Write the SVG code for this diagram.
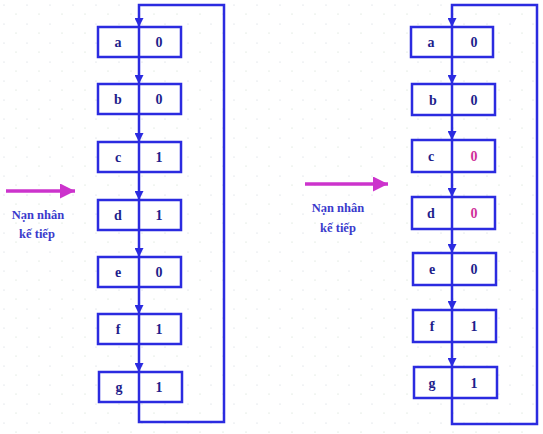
<svg xmlns="http://www.w3.org/2000/svg" width="543" height="434" viewBox="0 0 543 434">
<style>
.box{fill:#ffffff;stroke:#2b2be0;stroke-width:2.5}
.ln{fill:none;stroke:#2b2be0;stroke-width:2.5}
.lab{font-family:"Liberation Serif","Times New Roman",serif;font-weight:bold;font-size:14px;fill:#1e1e8c;text-anchor:middle}
.val{font-family:"Liberation Serif","Times New Roman",serif;font-weight:bold;font-size:14px;fill:#1e1e8c;text-anchor:middle}
.mag{fill:#d0309a}
.cap{font-family:"Liberation Serif","DejaVu Serif",serif;font-size:12.5px;font-weight:bold;fill:#3a3acc;text-anchor:middle}
.pk{fill:none;stroke:#cc33cc;stroke-width:3.5}
</style>
<defs>
<marker id="ah" viewBox="0 0 10 10" refX="10" refY="5" markerWidth="9" markerHeight="9" markerUnits="userSpaceOnUse" orient="auto">
<path d="M0,0 L10,5 L0,10 z" fill="#2b2be0"/>
</marker>
<marker id="pah" viewBox="0 0 10 10" refX="10" refY="5" markerWidth="15" markerHeight="15" markerUnits="userSpaceOnUse" orient="auto">
<path d="M0,0 L10,5 L0,10 z" fill="#cc33cc"/>
</marker>
<pattern id="dots" width="23" height="19" patternUnits="userSpaceOnUse">
<circle cx="4" cy="5" r="0.6" fill="#c8d0d8"/>
<circle cx="16" cy="14" r="0.6" fill="#c8d8c8"/>
</pattern>
</defs>
<rect width="543" height="434" fill="#ffffff"/>
<rect width="543" height="434" fill="url(#dots)"/>

<g id="left-nodes">
<g id="L-a"><rect class="box" x="98" y="27" width="83" height="30"/><line class="ln" x1="139" y1="27" x2="139" y2="57"/><text class="lab" x="118" y="47">a</text><text class="val" x="159" y="47">0</text></g>
<g id="L-b"><rect class="box" x="98" y="84" width="83" height="30"/><line class="ln" x1="139" y1="84" x2="139" y2="114"/><text class="lab" x="118" y="104">b</text><text class="val" x="159" y="104">0</text></g>
<g id="L-c"><rect class="box" x="98" y="142" width="83" height="30"/><line class="ln" x1="139" y1="142" x2="139" y2="172"/><text class="lab" x="118" y="162">c</text><text class="val" x="159" y="162">1</text></g>
<g id="L-d"><rect class="box" x="98" y="200" width="83" height="30"/><line class="ln" x1="139" y1="200" x2="139" y2="230"/><text class="lab" x="118" y="220">d</text><text class="val" x="159" y="220">1</text></g>
<g id="L-e"><rect class="box" x="98" y="257" width="83" height="30"/><line class="ln" x1="139" y1="257" x2="139" y2="287"/><text class="lab" x="118" y="277">e</text><text class="val" x="159" y="277">0</text></g>
<g id="L-f"><rect class="box" x="98" y="314" width="83" height="30"/><line class="ln" x1="139" y1="314" x2="139" y2="344"/><text class="lab" x="118" y="334">f</text><text class="val" x="159" y="334">1</text></g>
<g id="L-g"><rect class="box" x="99" y="372" width="83" height="30"/><line class="ln" x1="139" y1="372" x2="139" y2="402"/><text class="lab" x="119" y="392">g</text><text class="val" x="159" y="392">1</text></g>
</g>

<g id="right-nodes">
<g id="R-a"><rect class="box" x="411" y="27" width="82" height="30"/><line class="ln" x1="452" y1="27" x2="452" y2="57"/><text class="lab" x="431" y="47">a</text><text class="val" x="474" y="47">0</text></g>
<g id="R-b"><rect class="box" x="412" y="84" width="83" height="31"/><line class="ln" x1="452" y1="84" x2="452" y2="115"/><text class="lab" x="433" y="105">b</text><text class="val" x="474" y="105">0</text></g>
<g id="R-c"><rect class="box" x="412" y="140" width="83" height="32"/><line class="ln" x1="452" y1="140" x2="452" y2="172"/><text class="lab" x="431" y="161">c</text><text class="val mag" x="474" y="161">0</text></g>
<g id="R-d"><rect class="box" x="412" y="197" width="83" height="32"/><line class="ln" x1="452" y1="197" x2="452" y2="229"/><text class="lab" x="431" y="218">d</text><text class="val mag" x="474" y="218">0</text></g>
<g id="R-e"><rect class="box" x="413" y="253" width="83" height="32"/><line class="ln" x1="452" y1="253" x2="452" y2="285"/><text class="lab" x="432" y="274">e</text><text class="val" x="474" y="274">0</text></g>
<g id="R-f"><rect class="box" x="413" y="310" width="83" height="32"/><line class="ln" x1="452" y1="310" x2="452" y2="342"/><text class="lab" x="432" y="331">f</text><text class="val" x="474" y="331">1</text></g>
<g id="R-g"><rect class="box" x="414" y="367" width="83" height="31"/><line class="ln" x1="452" y1="367" x2="452" y2="398"/><text class="lab" x="432" y="388">g</text><text class="val" x="474" y="388">1</text></g>
</g>

<g id="connectors">
<path class="ln" d="M139,402 V422 H224 V5 H139 V27" marker-end="url(#ah)"/>
<path class="ln" d="M139,57 V84" marker-end="url(#ah)"/>
<path class="ln" d="M139,114 V142" marker-end="url(#ah)"/>
<path class="ln" d="M139,172 V200" marker-end="url(#ah)"/>
<path class="ln" d="M139,230 V257" marker-end="url(#ah)"/>
<path class="ln" d="M139,287 V314" marker-end="url(#ah)"/>
<path class="ln" d="M139,344 V372" marker-end="url(#ah)"/>

<path class="ln" d="M452,398 V424 H537 V5 H452 V27" marker-end="url(#ah)"/>
<path class="ln" d="M452,57 V84" marker-end="url(#ah)"/>
<path class="ln" d="M452,115 V140" marker-end="url(#ah)"/>
<path class="ln" d="M452,172 V197" marker-end="url(#ah)"/>
<path class="ln" d="M452,229 V253" marker-end="url(#ah)"/>
<path class="ln" d="M452,285 V310" marker-end="url(#ah)"/>
<path class="ln" d="M452,342 V367" marker-end="url(#ah)"/>

<path class="pk" d="M6,191 H75" marker-end="url(#pah)"/>
<path class="pk" d="M305,184 H388" marker-end="url(#pah)"/>
</g>

<g id="captions">
<text class="cap" x="38" y="219">Nạn nhân</text>
<text class="cap" x="37" y="238">kế tiếp</text>
<text class="cap" x="338" y="212">Nạn nhân</text>
<text class="cap" x="338" y="232">kế tiếp</text>
</g>
</svg>
